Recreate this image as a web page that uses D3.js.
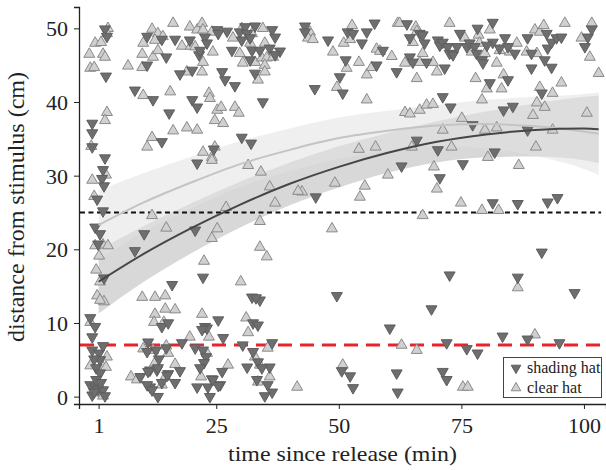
<!DOCTYPE html>
<html>
<head>
<meta charset="utf-8">
<script src="https://cdn.jsdelivr.net/npm/d3@7"></script>
<style>
  body { margin: 0; background: #fff; }
  svg { display: block; }
</style>
</head>
<body>
<svg id="chart" width="606" height="470"></svg>
<script>
const FONT = "Liberation Serif";

// tick values
const xTicks = [1, 25, 50, 75, 100];
const yTicks = [0, 10, 20, 30, 40, 50];

// thresholds (cm)
const blackLine = 25;
const redLine = 7;

// fitted curves
const fitX = [1, 10, 20, 30, 40, 50, 60, 70, 80, 90, 100, 103];
const shadeFit = [15.6, 19.3, 22.9, 26.1, 28.9, 31.2, 33.1, 34.6, 35.6, 36.2, 36.4, 36.3];
const shadeLo  = [11.3, 15.5, 19.5, 23.0, 26.0, 28.4, 30.4, 31.8, 32.5, 32.6, 32.1, 31.7];
const shadeHi  = [19.9, 23.1, 26.3, 29.2, 31.8, 34.0, 35.8, 37.4, 38.7, 39.8, 40.7, 40.9];
const clearFit = [23.3, 26.3, 29.1, 31.6, 33.5, 35.1, 36.1, 36.8, 37.0, 36.7, 36.0, 35.7];
const clearLo  = [18.6, 22.3, 25.6, 28.5, 30.6, 32.3, 33.4, 34.0, 33.7, 32.7, 30.9, 30.1];
const clearHi  = [28.0, 30.3, 32.6, 34.7, 36.4, 37.9, 38.8, 39.6, 40.3, 40.7, 41.1, 41.3];

// shading hat observations [time, distance]
const shading = [
  [2.3,49.9],[2.7,48.9],[2.5,43.5],[-0.3,37.1],[-0.3,35.8],[-0.3,33.9],[2.3,32.4],[1.9,30.8],[1.7,29.6],[2.1,28.6],
  [0.7,26.8],[1.9,25.2],[0.3,23.0],[1.3,22.1],[0.9,20.7],[2.1,16.1],[-0.7,10.7],[0.3,9.5],[-0.3,8.1],[-0.3,6.3],
  [1.1,5.9],[1.9,6.9],[1.3,5.0],[0.1,5.1],[0.5,3.9],[1.3,3.2],[-0.7,1.6],[0.3,1.3],[0.9,1.0],[1.9,0.9],
  [-0.3,0.2],[2.3,0.1],[0.5,2.3],[1.5,1.9],[0.1,0.6],
  [10.9,45.0],[10.9,48.9],[13.9,48.5],[14.8,46.1],[16.6,48.5],[17.6,43.8],[20.1,44.3],[19.6,48.4],[21.5,46.4],[8.4,41.6],
  [12.1,40.3],[15.4,38.5],[20.1,40.3],[21.1,39.3],[13.9,34.6],
  [25.2,49.8],[25.4,49.3],[27.2,49.6],[22.7,48.8],[23.1,48.0],[21.7,47.0],[28.2,47.0],[29.8,49.5],[30.9,50.2],[31.3,49.3],
  [31.9,48.7],[30.2,48.4],[32.9,50.3],[36.4,49.8],[37.0,48.8],[35.9,47.3],[32.3,47.0],[31.9,45.7],[33.9,47.0],[38.0,46.9],
  [37.0,46.4],[32.9,43.9],[26.2,44.1],[26.8,43.0],[28.8,42.2],[34.5,40.0],[30.2,35.2],[32.1,34.4],[24.5,33.6],
  [43.1,50.3],[43.1,49.5],[47.8,48.4],[51.8,49.5],[52.9,49.3],[55.7,49.5],[57.3,50.7],[54.7,48.0],[51.4,45.7],[50.2,43.4],
  [45.1,41.8],[50.8,41.2],[57.7,45.0],[59.0,47.0],[61.8,44.1],
  [63.9,50.6],[66.5,49.3],[64.5,48.7],[67.1,49.1],[67.5,48.0],[64.5,46.1],[65.1,45.4],[67.9,45.4],[71.6,44.6],[70.2,48.4],
  [70.6,47.7],[71.2,48.1],[72.2,47.5],[72.6,46.6],[73.3,46.4],[74.1,47.5],[74.7,49.3],[76.1,47.5],[76.7,48.0],[77.7,47.5],
  [78.1,46.6],[78.3,50.0],[79.2,45.7],[79.4,45.3],[81.4,50.8],[81.4,48.1],[80.2,47.7],[82.8,47.3],[83.9,48.7],[84.5,47.5],
  [85.9,46.6],[84.5,43.0],[80.8,42.6],[88.5,48.7],[89.3,46.6],[89.3,44.6],[92.4,49.3],[92.6,47.3],[93.4,48.1],[94.4,48.7],
  [95.4,48.8],[92.0,45.7],[93.4,44.7],[91.4,41.2],[100.2,47.5],[100.8,48.8],[101.6,49.9],[71.2,40.7],[72.8,39.3],[83.6,38.9],
  [85.5,39.4],[77.3,36.9],[88.5,36.2],[65.9,34.8],[70.2,33.5],[81.8,33.2],
  [62.8,31.3],[75.3,31.6],[70.6,29.7],[45.3,27.1],[81.4,26.3],[86.5,26.2],[92.6,26.4],[94.6,27.0],[91.4,19.6],[72.6,16.5],
  [86.5,16.2],[98.1,14.1],[49.6,13.7],
  [22.3,16.2],[21.1,31.7],[10.3,22.1],[8.4,19.8],[20.7,22.6],[16.0,15.2],[32.3,13.5],[33.9,13.1],[33.1,13.4],
  [25.4,10.4],[32.5,10.0],[33.5,9.7],[22.7,9.5],[13.9,9.5],[15.2,10.0],[11.1,7.4],[10.9,6.1],[12.7,6.3],[13.3,5.1],
  [14.8,6.6],[9.5,2.7],[11.5,3.6],[12.9,3.6],[11.5,1.3],[13.1,0.0],[13.9,1.9],[15.2,3.1],[16.6,1.9],[17.6,3.5],
  [18.0,7.3],[23.1,9.3],[20.7,6.6],[22.3,6.3],[22.9,5.4],[22.5,4.6],[26.2,3.4],[21.7,3.9],[21.1,1.3],[23.3,1.3],
  [24.1,2.4],[25.8,1.6],[23.7,0.0],[26.4,8.0],[30.4,7.0],[32.5,6.1],[33.5,4.7],[31.3,4.0],[33.3,2.3],[11.1,3.4],
  [13.1,3.9],[10.9,1.6],[11.9,0.9],[15.0,2.9],[22.1,9.1],[36.4,7.3],[35.9,4.0],[34.3,3.9],[25.4,1.5],[35.5,1.6],
  [36.4,0.6],[34.9,0.1],[24.3,2.3],
  [50.6,3.5],[52.3,2.8],[52.9,1.2],[60.4,9.3],[61.8,3.2],[62.0,0.6],[72.0,7.3],[76.1,6.5],[78.3,5.9],[83.4,8.2],
  [88.5,7.8],[95.0,7.3],[71.2,3.4],[72.0,2.3],[68.9,11.9]
];

// clear hat observations [time, distance]
const clear = [
  [2.9,50.0],[2.7,49.3],[0.3,48.0],[1.5,48.1],[-0.9,46.5],[1.9,46.5],[2.3,46.1],[-0.7,44.6],[0.1,44.7],[2.7,38.6],
  [2.3,37.5],[-0.5,34.0],[2.5,30.1],[-0.3,29.4],[0.1,27.2],[0.3,20.5],[1.9,20.6],[2.9,20.5],[1.1,19.1],[0.5,17.2],
  [1.3,15.6],[0.7,13.7],[2.1,12.9],[1.3,13.1],[-0.7,10.1],[2.7,5.4],[-0.7,4.2],[1.7,4.2],[2.5,4.0],[1.1,0.5],[1.9,0.1],
  [7.0,44.9],[9.9,44.7],[9.9,46.5],[12.1,46.1],[10.1,48.0],[11.9,49.9],[13.1,49.3],[12.5,48.4],[13.1,47.0],[14.1,48.9],
  [16.2,50.7],[18.0,47.6],[19.0,44.1],[19.6,50.2],[21.1,49.8],[19.8,47.6],[20.7,47.5],[10.1,40.9],[15.6,41.4],[16.2,36.1],
  [19.0,36.5],[21.1,36.2],[11.9,35.2],[10.9,33.9],
  [22.1,50.7],[22.3,49.8],[24.1,49.5],[24.3,46.8],[22.3,45.4],[22.1,44.1],[28.4,48.7],[30.2,50.0],[32.3,49.3],[34.5,50.0],
  [34.9,48.0],[31.9,48.0],[29.8,46.6],[30.4,45.3],[32.9,45.4],[34.3,46.0],[35.3,46.0],[36.6,46.1],[34.9,45.0],[34.9,44.1],
  [33.5,43.0],[23.5,41.2],[23.7,40.5],[25.2,38.9],[26.0,39.3],[28.8,39.3],[29.6,38.5],[24.7,37.5],[26.4,37.1],[24.7,33.9],
  [22.3,33.2],[24.1,32.5],
  [44.1,49.5],[43.7,48.7],[44.7,48.5],[48.8,46.8],[51.0,48.0],[52.3,48.5],[52.7,50.4],[51.6,44.6],[54.1,45.4],[49.6,42.0],
  [55.7,40.3],[55.7,43.7],[56.7,44.7],[57.7,47.2],[58.4,46.9],[60.8,46.2],[62.0,50.7],[54.1,33.6],[57.5,33.9],
  [62.4,50.7],[65.7,50.2],[65.9,49.6],[65.1,48.1],[67.1,46.6],[63.5,45.3],[66.5,45.4],[69.2,45.4],[65.9,43.2],[70.0,44.1],
  [72.6,50.7],[75.7,48.7],[77.1,46.8],[78.5,49.1],[78.7,48.0],[79.8,46.6],[80.8,49.8],[82.2,45.3],[82.8,47.0],[86.3,48.0],
  [84.9,46.8],[77.9,43.2],[83.6,43.7],[80.2,41.8],[83.2,41.8],[88.3,46.8],[90.4,46.6],[90.0,49.8],[91.0,49.5],[91.8,50.4],
  [91.0,42.0],[93.6,41.2],[95.4,42.6],[96.1,50.7],[99.5,48.7],[101.6,50.7],[101.2,46.1],[103.0,43.9],[90.4,39.9],[92.0,39.3],
  [89.6,38.2],[100.6,38.5],[79.2,40.3],[75.1,37.8],[71.2,36.2],[79.8,36.2],[82.2,36.5],[93.6,36.2],[64.9,33.9],[73.0,33.9],
  [80.4,32.5],[90.2,33.9],[63.5,38.6],[64.5,38.4],[66.5,38.9],[67.9,39.6],[69.2,39.7],
  [60.0,30.1],[69.4,31.2],[86.7,31.4],[70.0,28.2],[49.2,29.0],[55.3,28.6],[54.3,27.1],[42.5,27.8],[74.9,26.3],[79.2,25.3],
  [82.6,25.3],[67.1,24.6],[48.6,22.8],[86.5,14.8],
  [24.1,32.1],[31.5,31.4],[34.1,30.5],[35.9,28.5],[37.0,26.3],[41.7,27.9],[27.0,25.7],[33.9,23.8],[25.2,22.8],[24.1,21.5],
  [33.9,20.3],[35.3,19.0],[22.5,18.4],[30.0,15.6],[11.9,24.6],[14.8,22.9],[9.9,13.5],[12.5,13.5],[14.6,13.7],
  [16.6,11.8],[14.6,11.9],[12.5,11.2],[12.3,10.1],[14.3,10.1],[22.1,11.2],[31.1,10.7],[10.1,6.5],[12.1,6.3],[14.8,6.9],
  [15.2,5.9],[7.6,2.7],[8.8,2.3],[14.6,2.7],[16.6,4.4],[19.6,8.1],[23.5,8.1],[23.1,5.9],[27.4,4.3],[21.9,2.7],
  [31.5,8.7],[32.9,5.4],[12.5,4.6],[13.9,1.6],[35.5,6.6],[33.9,4.3],[33.5,2.0],[35.9,2.7],[41.5,1.3],
  [50.8,4.3],[62.8,7.0],[65.9,6.3],[90.0,8.4],[75.3,1.3],[76.3,1.3]
];

const svg = d3.select("#chart");

const x = d3.scaleLinear().domain([-3, 104.5]).range([79, 606]);
const y = d3.scaleLinear().domain([-1, 52.9]).range([404, 7]);

// confidence bands
function band(lo, hi) {
  return d3.area()
    .x((d, i) => x(fitX[i]))
    .y0((d, i) => y(lo[i]))
    .y1((d, i) => y(hi[i]))
    .curve(d3.curveMonotoneX)(fitX);
}
svg.append("path").attr("d", band(shadeLo, shadeHi))
  .attr("fill", "#c8c8c8").attr("fill-opacity", 0.7);
svg.append("path").attr("d", band(clearLo, clearHi))
  .attr("fill", "#e2e2e2").attr("fill-opacity", 0.55);

// reference lines
svg.append("line")
  .attr("x1", x(-2.8)).attr("x2", x(103.5))
  .attr("y1", y(blackLine)).attr("y2", y(blackLine))
  .attr("stroke", "#111").attr("stroke-width", 2).attr("stroke-dasharray", "5,3.5");
svg.append("line")
  .attr("x1", x(-2.8)).attr("x2", x(103.5))
  .attr("y1", y(redLine)).attr("y2", y(redLine))
  .attr("stroke", "#e8242a").attr("stroke-width", 3).attr("stroke-dasharray", "14,8");

// points
const triUp = d3.symbol(d3.symbolTriangle, 52)();

svg.append("g").selectAll("path")
  .data(clear)
  .join("path")
  .attr("d", triUp)
  .attr("transform", d => `translate(${x(d[0])},${y(d[1])})`)
  .attr("fill", "#d0d0d0")
  .attr("stroke", "#8a8a8a")
  .attr("stroke-width", 1);

svg.append("g").selectAll("path")
  .data(shading)
  .join("path")
  .attr("d", triUp)
  .attr("transform", d => `translate(${x(d[0])},${y(d[1])}) rotate(180)`)
  .attr("fill", "#6e6e6e")
  .attr("stroke", "#5e5e5e")
  .attr("stroke-width", 1);

// fitted lines
function fitLine(vals) {
  return d3.line()
    .x((d, i) => x(fitX[i]))
    .y((d, i) => y(vals[i]))
    .curve(d3.curveMonotoneX)(fitX);
}
svg.append("path").attr("d", fitLine(clearFit))
  .attr("fill", "none").attr("stroke", "#c4c4c4").attr("stroke-width", 2);
svg.append("path").attr("d", fitLine(shadeFit))
  .attr("fill", "none").attr("stroke", "#464646").attr("stroke-width", 2);

// axes
const xAxis = svg.append("g")
  .attr("transform", `translate(0,${y.range()[0]})`)
  .call(d3.axisBottom(x).tickValues(xTicks).tickSizeOuter(0).tickSize(5).tickPadding(8));
const yAxis = svg.append("g")
  .attr("transform", `translate(${x.range()[0]},0)`)
  .call(d3.axisLeft(y).tickValues(yTicks).tickSizeOuter(0).tickSize(5).tickPadding(6));

[xAxis, yAxis].forEach(g => {
  g.attr("font-family", FONT).attr("font-size", 22);
  g.select(".domain").attr("stroke", "#222").attr("stroke-width", 1.3);
  g.selectAll(".tick line").attr("stroke", "#222");
  g.selectAll(".tick text").attr("fill", "#222");
});
yAxis.selectAll(".tick text").attr("dy", "0.34em");

// axis titles
svg.append("text")
  .attr("x", 342.5).attr("y", 461)
  .attr("text-anchor", "middle")
  .attr("fill", "#222")
  .attr("font-family", FONT)
  .attr("font-size", 22)
  .attr("textLength", 229)
  .attr("lengthAdjust", "spacingAndGlyphs")
  .text("time since release (min)");

svg.append("text")
  .attr("transform", "translate(24,207) rotate(-90)")
  .attr("text-anchor", "middle")
  .attr("fill", "#222")
  .attr("font-family", FONT)
  .attr("font-size", 23)
  .attr("textLength", 270)
  .attr("lengthAdjust", "spacingAndGlyphs")
  .text("distance from stimulus (cm)");

// legend
const lg = svg.append("g");
lg.append("rect")
  .attr("x", 503.5).attr("y", 357.5).attr("width", 98).attr("height", 40)
  .attr("fill", "#fff").attr("stroke", "#444").attr("stroke-width", 1);
const legendItems = [
  {label: "shading hat", rot: 180, fill: "#6e6e6e", stroke: "#5e5e5e", cy: 368},
  {label: "clear hat", rot: 0, fill: "#d0d0d0", stroke: "#8a8a8a", cy: 388}
];
legendItems.forEach(it => {
  lg.append("path")
    .attr("d", d3.symbol(d3.symbolTriangle, 40)())
    .attr("transform", `translate(516,${it.cy}) rotate(${it.rot})`)
    .attr("fill", it.fill).attr("stroke", it.stroke);
  lg.append("text")
    .attr("x", 527).attr("y", it.cy + 5)
    .attr("fill", "#222")
    .attr("font-family", FONT)
    .attr("font-size", 16)
    .text(it.label);
});
</script>
</body>
</html>
